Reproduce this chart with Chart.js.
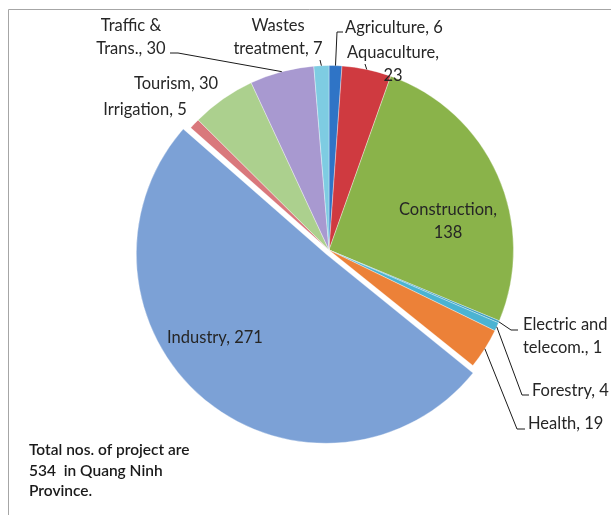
<!DOCTYPE html>
<html>
<head>
<meta charset="utf-8">
<script src="https://cdn.jsdelivr.net/npm/chart.js@4.4.1/dist/chart.umd.min.js"></script>
<style>
  html, body { margin: 0; padding: 0; background: #fff; }
  #wrap { position: relative; width: 611px; height: 515px; }
</style>
</head>
<body>
<div id="wrap"><canvas id="projectsChart" width="611" height="515"></canvas></div>
<script>
'use strict';

// Data
const sectors = ['Agriculture', 'Aquaculture', 'Construction', 'Electric and telecom.', 'Forestry', 'Health',
  'Industry', 'Irrigation', 'Tourism', 'Traffic & Trans.', 'Wastes treatment'];
const projectCounts = [6, 23, 138, 1, 4, 19, 271, 5, 30, 30, 7];
const sliceLabels = [
  ['Agriculture, 6'],
  ['Aquaculture,', '23'],
  ['Construction,', '138'],
  ['Electric and', 'telecom., 1'],
  ['Forestry, 4'],
  ['Health, 19'],
  ['Industry, 271'],
  ['Irrigation, 5'],
  ['Tourism, 30'],
  ['Traffic &', 'Trans., 30'],
  ['Wastes', 'treatment, 7']
];
const noteLines = ['Total nos. of project are', '534  in Quang Ninh', 'Province.'];

// Styles
const sliceColors = ['#2f74c6', '#cf3a40', '#8ab34a', '#3b9ec0', '#4bb3d2', '#ec8138',
  '#7ca1d6', '#d9787c', '#acd08e', '#a899d0', '#7ecce2'];
const sliceOffsets = [0, 0, 0, 0, 0, 0, 20, 0, 0, 0, 0];
const textColor = '#262626';

// label placement: x, y of first line centre, alignment, leader points (drawn from slice edge)
const labelLayout = [
  { x: 345, y: 28, align: 'left', leader: [[337, 32], [343, 32]] },
  { x: 393, y: 53, align: 'center', leader: [[365, 64]] },
  { x: 448, y: 210, align: 'center', leader: null },
  { x: 523, y: 325, align: 'left', leader: [[511, 330], [518, 330]] },
  { x: 532, y: 391, align: 'left', leader: [[522, 395], [529, 395]] },
  { x: 528, y: 424, align: 'left', leader: [[517, 429], [525, 429]] },
  { x: 215, y: 338, align: 'center', leader: null },
  { x: 145, y: 110, align: 'center', leader: null },
  { x: 176, y: 84, align: 'center', leader: null },
  { x: 131, y: 26, align: 'center', leader: [[178, 53], [170, 53]] },
  { x: 278, y: 26, align: 'center', leader: [[320, 60]] }
];

const framePlugin = {
  id: 'frame',
  beforeDraw(chart) {
    const ctx = chart.ctx;
    ctx.save();
    ctx.strokeStyle = '#a6a6a6';
    ctx.lineWidth = 1;
    ctx.beginPath();
    ctx.moveTo(8.5, 515);
    ctx.lineTo(8.5, 9.5);
    ctx.lineTo(611, 9.5);
    ctx.stroke();
    ctx.restore();
  }
};

const labelPlugin = {
  id: 'sliceLabels',
  afterDatasetsDraw(chart) {
    const ctx = chart.ctx;
    const arcs = chart.getDatasetMeta(0).data;
    ctx.save();
    ctx.font = '16.5px Lato, "Liberation Sans", sans-serif';
    ctx.fillStyle = textColor;
    ctx.textBaseline = 'middle';
    arcs.forEach((arc, i) => {
      const lay = labelLayout[i];
      const p = arc.getProps(['x', 'y', 'startAngle', 'endAngle', 'outerRadius'], true);
      const mid = (p.startAngle + p.endAngle) / 2;
      const off = sliceOffsets[i];
      if (lay.leader) {
        ctx.strokeStyle = '#1a1a1a';
        ctx.lineWidth = 1;
        ctx.beginPath();
        ctx.moveTo(p.x + Math.cos(mid) * (p.outerRadius + off), p.y + Math.sin(mid) * (p.outerRadius + off));
        lay.leader.forEach(pt => ctx.lineTo(pt[0], pt[1]));
        ctx.stroke();
      }
      ctx.textAlign = lay.align;
      sliceLabels[i].forEach((line, k) => {
        ctx.fillText(line, lay.x, lay.y + k * 23);
      });
    });
    // note text
    ctx.font = '600 15.5px Lato, "Liberation Sans", sans-serif';
    ctx.fillStyle = '#1a1a1a';
    ctx.textAlign = 'left';
    noteLines.forEach((line, k) => ctx.fillText(line, 29, 450 + k * 20.5));
    ctx.restore();
  }
};

new Chart(document.getElementById('projectsChart').getContext('2d'), {
  type: 'pie',
  data: {
    labels: sectors,
    datasets: [{
      data: projectCounts,
      backgroundColor: sliceColors,
      borderColor: 'rgba(255,255,255,0.35)',
      borderWidth: 1,
      offset: sliceOffsets,
      hoverOffset: 0
    }]
  },
  options: {
    responsive: false,
    animation: false,
    layout: { padding: { top: 55, bottom: 70, left: 120, right: 73 } },
    plugins: {
      legend: { display: false },
      tooltip: { enabled: false },
      title: { display: false }
    }
  },
  plugins: [framePlugin, labelPlugin]
});
</script>
</body>
</html>
